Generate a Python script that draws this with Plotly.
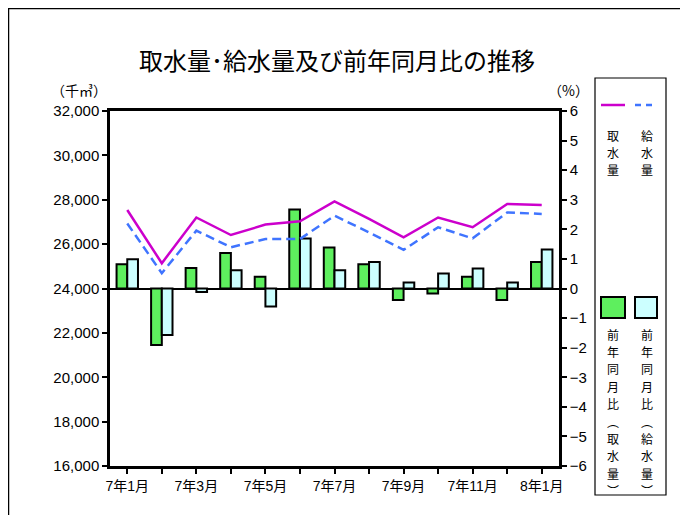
import plotly.graph_objects as go

months = ["7年1月", "7年2月", "7年3月", "7年4月", "7年5月", "7年6月", "7年7月",
          "7年8月", "7年9月", "7年10月", "7年11月", "7年12月", "8年1月"]
tick_text = ["7年1月", "", "7年3月", "", "7年5月", "", "7年7月",
             "", "7年9月", "", "7年11月", "", "8年1月"]
intake = [27540, 25140, 27200, 26410, 26880, 27030, 27930, 27140, 26310, 27200, 26760, 27810, 27760]
supply = [26930, 24690, 26610, 25860, 26230, 26230, 27280, 26530, 25740, 26760, 26260, 27430, 27360]
intake_yoy = [0.82, -1.91, 0.69, 1.20, 0.40, 2.67, 1.39, 0.82, -0.39, -0.17, 0.40, -0.39, 0.90]
supply_yoy = [0.99, -1.57, -0.12, 0.62, -0.61, 1.69, 0.62, 0.90, 0.20, 0.51, 0.68, 0.20, 1.32]

JP = "Noto Sans CJK JP"
NUM = "Liberation Sans, Noto Sans CJK JP"
GREEN = "#5eef5e"
CYAN = "#ccffff"
MAGENTA = "#cc00cc"
BLUE = "#3f74ff"

fig = go.Figure()
fig.add_trace(go.Bar(x=months, y=intake_yoy, name="前年同月比（取水量）", yaxis="y",
                     marker=dict(color=GREEN, line=dict(color="black", width=2))))
fig.add_trace(go.Bar(x=months, y=supply_yoy, name="前年同月比（給水量）", yaxis="y",
                     marker=dict(color=CYAN, line=dict(color="black", width=2))))
fig.add_trace(go.Scatter(x=months, y=intake, name="取水量", yaxis="y2", mode="lines",
                         line=dict(color=MAGENTA, width=2.5)))
fig.add_trace(go.Scatter(x=months, y=supply, name="給水量", yaxis="y2", mode="lines",
                         line=dict(color=BLUE, width=2.5, dash="9px,5px")))

# page has an 8px body margin; coordinates below are screen pixels
OFF = 8
FW, FH = 680, 507
L, R, T, B = 110, 559, 111, 466
W, H = R - L, B - T


def px(x):
    return (x - L) / W


def py(y):
    return (B - y) / H


shapes = [
    # outer border (figure edge)
    dict(type="rect", xref="paper", yref="paper", x0=px(OFF + 0.5), x1=px(685), y0=py(OFF + 0.5),
         y1=py(OFF + FH + 5), line=dict(color="black", width=1.5),
         fillcolor="rgba(0,0,0,0)", layer="below"),
    # legend box
    dict(type="rect", xref="paper", yref="paper", x0=px(595), x1=px(666), y0=py(78), y1=py(495),
         line=dict(color="black", width=1.2), fillcolor="white"),
    # legend lines
    dict(type="line", xref="paper", yref="paper", x0=px(601), x1=px(625), y0=py(105), y1=py(105),
         line=dict(color=MAGENTA, width=2.5)),
    dict(type="line", xref="paper", yref="paper", x0=px(635), x1=px(657), y0=py(105), y1=py(105),
         line=dict(color=BLUE, width=2.5, dash="6px,5px")),
    # legend squares
    dict(type="rect", xref="paper", yref="paper", x0=px(601), x1=px(625), y0=py(297), y1=py(318),
         line=dict(color="black", width=2), fillcolor=GREEN),
    dict(type="rect", xref="paper", yref="paper", x0=px(635), x1=px(657), y0=py(297), y1=py(318),
         line=dict(color="black", width=2), fillcolor=CYAN),
]

annotations = [
    dict(text="（千㎥）", xref="paper", yref="paper", x=px(79), y=py(90), showarrow=False,
         xanchor="center", yanchor="middle", font=dict(family=JP, size=14, color="black")),
    dict(text="（%）", xref="paper", yref="paper", x=px(568), y=py(90), showarrow=False,
         xanchor="center", yanchor="middle", font=dict(family=JP, size=14, color="black")),
]

STEP = 17.4


def vertical(text, xc, y0):
    for i, ch in enumerate(text):
        annotations.append(dict(text=ch, xref="paper", yref="paper",
                                x=px(xc), y=py(y0 + i * STEP), showarrow=False,
                                xanchor="center", yanchor="middle", borderpad=0,
                                font=dict(family=JP, size=12, color="black")))


vertical("取水量", 613, 135)
vertical("給水量", 647, 135)
vertical("前年同月比︵取水量︶", 613, 334)
vertical("前年同月比︵給水量︶", 647, 334)

fig.update_layout(
    width=FW, height=FH,
    margin=dict(l=L - OFF, r=OFF + FW - R, t=T - OFF, b=OFF + FH - B),
    paper_bgcolor="white", plot_bgcolor="white",
    showlegend=False,
    barmode="group", bargap=0.38, bargroupgap=0,
    title=dict(text="取水量･給水量及び前年同月比の推移", x=(337 - OFF) / FW, xanchor="center",
               y=1 - (62 - OFF) / FH, yanchor="middle",
               font=dict(family=JP, size=24, color="black")),
    xaxis=dict(type="category", tickvals=months, ticktext=tick_text,
               showline=True, linecolor="black", linewidth=2.5, mirror=True,
               ticks="outside", ticklen=5, tickwidth=2, tickcolor="black",
               showgrid=False, tickfont=dict(family=NUM, size=14, color="black")),
    yaxis=dict(side="right", range=[-6, 6], dtick=1, showline=True, linecolor="black",
               linewidth=2.5, ticks="outside", ticklen=5, tickwidth=2, tickcolor="black",
               showgrid=False, zeroline=True, zerolinecolor="black", zerolinewidth=2,
               tickfont=dict(family=NUM, size=15, color="black")),
    yaxis2=dict(side="left", overlaying="y", range=[16000, 32000], dtick=2000,
                tickformat=",d", showline=True, linecolor="black", linewidth=2.5,
                ticks="outside", ticklen=5, tickwidth=2, tickcolor="black",
                showgrid=False, zeroline=False,
                tickfont=dict(family=NUM, size=15, color="black")),
    shapes=shapes,
    annotations=annotations,
)

fig.write_html("out.html")
